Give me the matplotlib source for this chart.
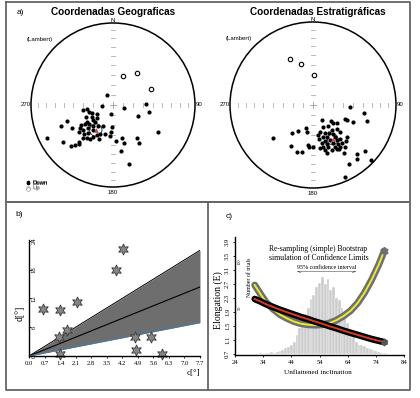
import numpy as np
import matplotlib.pyplot as plt
from matplotlib.patches import Circle

W, H = 420, 398

# ---- a) stereonet data, (east, north) on the unit Lambert net ----
geo_down = [(-0.077, 0.122), (-0.134, -0.016), (0.138, -0.041), (0.398, 0.012), (0.439, -0.081),
            (0.301, -0.134), (0.549, -0.325), (-0.024, -0.106), (-0.016, -0.264), (-0.024, -0.325),
            (-0.118, -0.252), (-0.093, -0.358), (-0.037, -0.374), (0.037, -0.439), (0.106, -0.407),
            (0.130, -0.467), (0.098, -0.561), (0.195, -0.724), (0.289, -0.398), (0.317, -0.459),
            (-0.809, -0.398), (-0.614, -0.447), (-0.638, -0.252), (-0.565, -0.191), (-0.496, -0.285),
            (-0.512, -0.496), (-0.467, -0.488), (-0.419, -0.472), (-0.411, -0.451), (-0.370, -0.057),
            (-0.313, -0.049), (-0.289, -0.081), (-0.256, -0.093), (-0.199, -0.114), (-0.260, -0.142),
            (-0.329, -0.150), (-0.248, -0.179), (-0.191, -0.163), (-0.321, -0.203), (-0.220, -0.203),
            (-0.394, -0.244), (-0.346, -0.232), (-0.289, -0.236), (-0.240, -0.260), (-0.179, -0.252),
            (-0.402, -0.285), (-0.362, -0.305), (-0.309, -0.285), (-0.240, -0.309), (-0.411, -0.333),
            (-0.358, -0.358), (-0.301, -0.346), (-0.248, -0.386), (-0.199, -0.366), (-0.159, -0.358),
            (-0.370, -0.407), (-0.280, -0.415), (-0.167, -0.415), (-0.321, -0.407)]
geo_up = [(0.122, 0.359), (0.294, 0.388), (0.461, 0.192)]
geo_mean = (-0.21, -0.305)
geo_a95 = 0.075

strat_down = [(0.446, -0.020), (0.614, -0.100), (0.655, -0.189), (0.486, -0.201), (0.414, -0.181),
              (0.390, -0.165), (0.104, -0.181), (0.213, -0.189), (0.245, -0.221), (0.285, -0.213),
              (-0.084, -0.281), (-0.177, -0.309), (-0.257, -0.333), (-0.076, -0.329), (-0.486, -0.402),
              (-0.269, -0.494), (-0.197, -0.562), (-0.137, -0.562), (-0.056, -0.482), (-0.044, -0.510),
              (0.004, -0.510), (0.064, -0.361), (0.084, -0.321), (0.124, -0.261), (0.185, -0.253),
              (0.225, -0.301), (0.285, -0.293), (0.325, -0.321), (0.406, -0.382), (0.398, -0.430),
              (0.345, -0.454), (0.386, -0.502), (0.317, -0.534), (0.373, -0.574), (0.526, -0.590),
              (0.530, -0.655), (0.627, -0.550), (0.695, -0.663), (0.438, -0.715), (0.386, -0.871),
              (0.145, -0.341), (0.197, -0.333), (0.245, -0.349), (0.124, -0.390), (0.173, -0.390),
              (0.265, -0.390), (0.076, -0.414), (0.145, -0.430), (0.205, -0.422), (0.285, -0.422),
              (0.325, -0.414), (0.104, -0.462), (0.165, -0.470), (0.245, -0.462), (0.305, -0.470),
              (0.116, -0.502), (0.185, -0.510), (0.265, -0.502), (0.325, -0.510), (0.145, -0.542),
              (0.225, -0.542), (0.285, -0.534), (0.084, -0.522), (0.165, -0.582)]
strat_up = [(-0.277, 0.554), (-0.145, 0.498), (0.012, 0.357)]
strat_mean = (0.237, -0.414)
strat_a95 = 0.065

# ---- b) data ----
b_eps = [0.63, 1.38, 2.14, 1.71, 1.35, 1.38, 3.94, 4.24, 4.77, 4.81, 5.49, 6.0]
b_d = [9.9, 9.5, 11.3, 5.4, 4.0, 0.35, 18.0, 22.3, 4.0, 1.3, 4.0, 0.35]
b_x_end = 7.7
b_upper, b_mid, b_lower = 22.05, 14.4, 6.96
b_xticks = [0.0, 0.7, 1.4, 2.1, 2.8, 3.5, 4.2, 4.9, 5.6, 6.3, 7.0, 7.7]
b_yticks = [0, 6, 12, 18, 24]

# ---- c) data ----
hist_inc = list(range(31, 78))
hist_n = [0, 0, 1, 0, 1, 1, 2, 1, 2, 3, 4, 6, 7, 9, 13, 20, 28, 34, 43, 50, 59, 64, 73, 77,
          84, 76, 81, 69, 73, 61, 58, 50, 43, 33, 25, 19, 13, 10, 9, 8, 6, 5, 4, 3, 2, 1, 1]
curve_inc = [31, 33, 35, 37.5, 40, 42.5, 45, 47.5, 50, 52.5, 55, 57.5, 60, 62.5, 65, 67.5, 70, 72.5, 75, 77]
e_tk03 = [2.67, 2.42, 2.18, 1.98, 1.82, 1.71, 1.62, 1.56, 1.53, 1.52, 1.53, 1.58, 1.66, 1.78,
          1.93, 2.15, 2.45, 2.82, 3.25, 3.65]
e_data = [2.27, 2.20, 2.12, 2.04, 1.96, 1.89, 1.82, 1.75, 1.69, 1.62, 1.56, 1.49, 1.43, 1.36,
          1.30, 1.24, 1.18, 1.12, 1.07, 1.03]
c_xticks = [24, 34, 44, 54, 64, 74, 84]
c_yticks = [0.7, 1.1, 1.5, 1.9, 2.3, 2.7, 3.1, 3.5, 3.9]

fig = plt.figure(figsize=(W / 100, H / 100), dpi=100)


def box(x0, y0, x1, y1):
    return [x0 / W, 1 - y1 / H, (x1 - x0) / W, (y1 - y0) / H]


# frames
bg = fig.add_axes([0, 0, 1, 1], zorder=-5)
bg.set_xlim(0, W)
bg.set_ylim(H, 0)
bg.axis('off')
fc = '#666666'
bg.plot([6, 410, 410, 6, 6], [2, 2, 202, 202, 2], color=fc, lw=1.3)
bg.plot([6, 410, 410, 6, 6], [202, 202, 390, 390, 202], color=fc, lw=1.3)
bg.plot([208, 208], [202, 390], color=fc, lw=1.3)

sans = 'Liberation Sans'
serif = 'Liberation Serif'

fig.text(17 / W, 1 - 13 / H, 'a)', fontsize=6, family=sans, ha='left', va='center')
fig.text(113 / W, 1 - 12 / H, 'Coordenadas Geograficas', fontsize=7.2, family=sans,
         weight='bold', ha='center', va='center')
fig.text(318 / W, 1 - 12 / H, 'Coordenadas Estratigráficas', fontsize=7.2, family=sans,
         weight='bold', ha='center', va='center')


def draw_net(cx, cy, r, down, up, mean, a95):
    half = 92
    ax = fig.add_axes(box(cx - half, cy - half, cx + half, cy + half))
    lim = half / r
    ax.set_xlim(-lim, lim)
    ax.set_ylim(-lim, lim)
    ax.axis('off')
    ax.add_patch(Circle((0, 0), 1, fill=False, lw=1.1, color='black'))
    # tick marks along the diameters (10 degree steps, equal-area)
    rt = np.sqrt(2) * np.sin(np.radians((90 - np.arange(80, 0, -10)) / 2))
    for rr in rt:
        for s in (-1, 1):
            ax.plot([s * rr, s * rr], [-0.025, 0.025], color='#b0b0b0', lw=0.6)
            ax.plot([-0.025, 0.025], [s * rr, s * rr], color='#b0b0b0', lw=0.6)
    ax.plot([-0.04, 0.04], [0, 0], color='#999999', lw=0.6)
    ax.plot([0, 0], [-0.04, 0.04], color='#999999', lw=0.6)
    d = np.array(down)
    u = np.array(up)
    ax.plot(d[:, 0], d[:, 1], 'o', ms=3.0, color='black', mew=0)
    ax.plot(u[:, 0], u[:, 1], 'o', ms=3.2, mfc='white', mec='black', mew=0.8)
    ax.add_patch(Circle(mean, a95, fill=False, lw=0.8, color='#34507a'))
    ax.plot(mean[0], mean[1], '^', ms=3.5, color='#c0504d', mew=0)
    kw = dict(fontsize=4.3, family=sans, clip_on=False)
    ax.text(0, 1.03, 'N', ha='center', va='center', **kw)
    ax.text(0, -1.04, '180', ha='center', va='top', **kw)
    ax.text(-1.0, 0, '270', ha='right', va='center', **kw)
    ax.text(1.01, 0, '90', ha='left', va='center', **kw)
    ax.text(-0.9, 0.8, '(Lambert)', ha='center', va='center', **kw)
    lx = (28 - cx) / r
    ax.plot(lx, -0.94, 'o', ms=2.6, color='black', mew=0, clip_on=False)
    ax.plot(lx, -1.01, 'o', ms=2.6, mfc='white', mec='#999999', mew=0.5, clip_on=False)
    ax.text(lx + 0.06, -0.94, 'Down', ha='left', va='center', **kw)
    ax.text(lx + 0.06, -1.01, 'Up', ha='left', va='center', color='#777777', **kw)
    return ax


draw_net(113, 105, 82, geo_down, geo_up, geo_mean, geo_a95)
draw_net(313, 105, 83, strat_down, strat_up, strat_mean, strat_a95)

# ---- panel b ----
fig.text(15 / W, 1 - 215 / H, 'b)', fontsize=6, family=sans, ha='left', va='center')
axb = fig.add_axes(box(29, 240, 200, 356))
xs = np.array([0, b_x_end])
axb.fill_between(xs, xs * b_lower / b_x_end, xs * b_upper / b_x_end, color='#6e6e6e', lw=0)
axb.plot(xs, xs * b_upper / b_x_end, color='black', lw=0.7)
axb.plot(xs, xs * b_mid / b_x_end, color='black', lw=0.8)
axb.plot(xs, xs * b_lower / b_x_end, color='#4a78a8', lw=0.8)
axb.plot(b_eps, b_d, ls='none', marker=(6, 1, 0), ms=8, mfc='#858585', mec='#3a3a3a', mew=0.6,
         clip_on=False)
axb.set_xlim(0, 7.7)
axb.set_ylim(0, 24.2)
axb.set_xticks(b_xticks)
axb.set_xticklabels(['%.1f' % v for v in b_xticks], family=serif)
axb.set_yticks(b_yticks)
axb.set_yticklabels([str(v) for v in b_yticks], family=serif, rotation=90, va='center')
axb.tick_params(labelsize=4.8, length=1.5, width=0.6, pad=2)
axb.tick_params(axis='y', direction='in', pad=-5.5)
for s in ('top', 'right'):
    axb.spines[s].set_visible(False)
for s in ('left', 'bottom'):
    axb.spines[s].set_linewidth(1.0)
fig.text(20 / W, 1 - 313 / H, 'd[°]', fontsize=7, family=serif, rotation=90, ha='center', va='center')
fig.text(200 / W, 1 - 373 / H, 'c[°]', fontsize=6.5, family=serif, ha='right', va='center')

# ---- panel c ----
fig.text(226 / W, 1 - 216 / H, 'c)', fontsize=6, family=sans, ha='left', va='center')
axc = fig.add_axes(box(235, 237, 404, 355))
axh = axc.twinx()
axh.bar(hist_inc, hist_n, width=1.0, color='#cbcbcb', edgecolor='white', lw=0.3)
axh.set_ylim(-1.4, 127)
axh.set_yticks([50, 100])
axh.set_yticklabels(['50', '100'], family=serif, rotation=90, va='center')
axh.yaxis.tick_left()
axh.tick_params(axis='y', direction='in', length=0, pad=-5, labelsize=3.2)
for s in axh.spines.values():
    s.set_visible(False)
axh.text(0.085, 0.66, 'Number of trials', transform=axh.transAxes, rotation=90, fontsize=4.2,
         family=serif, ha='center', va='center')
axc.set_zorder(axh.get_zorder() + 1)
axc.patch.set_visible(False)

axc.plot(curve_inc, e_tk03, color='#6f6f6f', lw=5.0, solid_capstyle='round')
axc.plot(curve_inc, e_tk03, color='#ece832', lw=1.4)
axc.plot(curve_inc, e_data, color='black', lw=4.8, solid_capstyle='round')
axc.plot(curve_inc, e_data, color='#d83a2a', lw=1.4)
axc.plot(curve_inc[-1], e_tk03[-1], marker=(6, 1, 0), ms=6, color='#6f6f6f')
axc.plot(curve_inc[-1], e_data[-1], marker=(6, 1, 0), ms=5, color='#555555')
axc.text(53.6, 3.57, 'Re-sampling (simple) Bootstrap\nsimulation of Confidence Limits',
         fontsize=5.5, family=serif, ha='center', va='center', linespacing=1.1)
axc.annotate('', xy=(45, 3.07), xytext=(68, 3.07),
             arrowprops=dict(arrowstyle='<->', lw=0.5, color='#333333', mutation_scale=5))
axc.text(56.5, 3.1, '95% confidence interval', fontsize=4.3, family=serif, ha='center',
         va='bottom', bbox=dict(fc='white', ec='none', pad=0.3))
axc.set_xlim(24, 84)
axc.set_ylim(0.662, 4.05)
axc.set_xticks(c_xticks)
axc.set_xticklabels([str(v) for v in c_xticks], family=serif)
axc.set_yticks(c_yticks)
axc.set_yticklabels(['%.1f' % v for v in c_yticks], family=serif, rotation=90, va='center')
axc.tick_params(labelsize=4.8, length=1.5, width=0.6, pad=2)
for s in ('top', 'right'):
    axc.spines[s].set_visible(False)
for s in ('left', 'bottom'):
    axc.spines[s].set_linewidth(1.0)
fig.text(218 / W, 1 - 300 / H, 'Elongation (E)', fontsize=7, family=serif, rotation=90,
         ha='center', va='center')
fig.text(318 / W, 1 - 373 / H, 'Unflattened inclination', fontsize=5.2, family=serif,
         ha='center', va='center')

fig.savefig('out.png', dpi=100)
